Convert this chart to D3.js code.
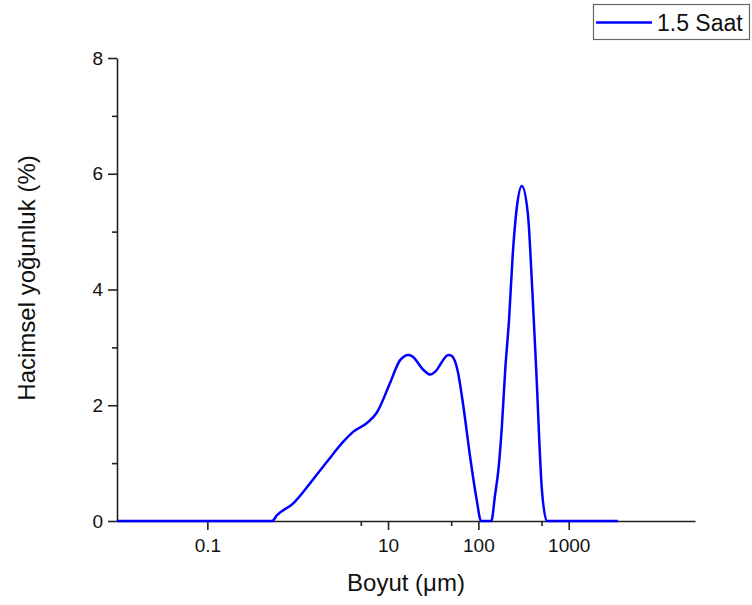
<!DOCTYPE html>
<html>
<head>
<meta charset="utf-8">
<script src="https://cdn.jsdelivr.net/npm/d3@7"></script>
<style>
  body { margin: 0; background: #fff; }
  text { font-family: Arial, "Liberation Sans", sans-serif; fill: #111; }
</style>
</head>
<body>
<div id="chart"></div>
<script>
// particle size (um) and volume density (%)
const sizes = [0.01, 0.52, 0.59, 0.9, 1.37, 2.1, 3.2, 4.1, 5.8, 7.5, 10.5, 13.6, 16.8, 18.4, 24.7, 29.3, 33.2, 46.7, 50.9, 58.7, 68.4, 81, 96, 107, 139, 153, 167, 182, 198, 219, 240, 267, 303, 353, 395, 437, 505, 574, 3500];
const values = [0, 0, 0.10, 0.31, 0.65, 1.02, 1.37, 1.54, 1.69, 1.87, 2.38, 2.78, 2.87, 2.85, 2.61, 2.53, 2.58, 2.87, 2.85, 2.61, 1.97, 1.11, 0.36, 0, 0, 0.45, 0.9, 1.63, 2.6, 3.5, 4.6, 5.43, 5.79, 5.31, 4.0, 2.61, 0.54, 0, 0];

const xTicks = [0.1, 10, 100, 1000];
const xMinor = [5, 50, 500];
const yTicks = [0, 2, 4, 6, 8];
const yMinor = [1, 3, 5, 7];
const seriesName = "1.5 Saat";

const width = 752, height = 605;
const mLeft = 117, mRight = 695, mTop = 58, mBottom = 521;

const svg = d3.select("#chart").append("svg")
  .attr("width", width)
  .attr("height", height);

const x = d3.scaleLog().domain([0.01, 25000]).range([mLeft, mRight]);
const y = d3.scaleLinear().domain([0, 8]).range([mBottom, mTop]);

// axes
const xAxis = svg.append("g").attr("transform", `translate(0,${mBottom})`)
  .call(d3.axisBottom(x).tickValues(xTicks).tickFormat(d => String(d)).tickSize(9).tickSizeOuter(0));
svg.append("g").attr("transform", `translate(0,${mBottom})`)
  .call(d3.axisBottom(x).tickValues(xMinor).tickFormat("").tickSize(5).tickSizeOuter(0))
  .select(".domain").remove();

const yAxis = svg.append("g").attr("transform", `translate(${mLeft},0)`)
  .call(d3.axisLeft(y).tickValues(yTicks).tickSize(9).tickSizeOuter(0));
svg.append("g").attr("transform", `translate(${mLeft},0)`)
  .call(d3.axisLeft(y).tickValues(yMinor).tickFormat("").tickSize(5).tickSizeOuter(0))
  .select(".domain").remove();

svg.selectAll(".domain, .tick line").attr("stroke", "#222").attr("stroke-width", 1.6);
svg.selectAll(".tick text").style("font-size", "19px").style("font-family", "Arial, 'Liberation Sans', sans-serif").attr("fill", "#111");
xAxis.selectAll(".tick text").attr("dy", "1.0em");
yAxis.selectAll(".tick text").attr("dx", "-0.1em");

// axis titles
svg.append("text")
  .attr("x", 406).attr("y", 591)
  .attr("text-anchor", "middle")
  .style("font-size", "24px")
  .text("Boyut (\u03bcm)");

svg.append("text")
  .attr("transform", "translate(35,278) rotate(-90)")
  .attr("text-anchor", "middle")
  .style("font-size", "24px")
  .text("Hacimsel yoğunluk (%)");

// data line
const data = sizes.map((s, i) => [s, values[i]]);
svg.append("path")
  .datum(data)
  .attr("fill", "none")
  .attr("stroke", "#0000ff")
  .attr("stroke-width", 2.5)
  .attr("d", d3.line().x(d => x(d[0])).y(d => y(d[1])).curve(d3.curveMonotoneX));

// legend
const lg = svg.append("g");
lg.append("rect")
  .attr("x", 593.5).attr("y", 4.5).attr("width", 156).attr("height", 35)
  .attr("fill", "#fff").attr("stroke", "#666").attr("stroke-width", 1.2);
lg.append("line")
  .attr("x1", 596).attr("x2", 652).attr("y1", 22.5).attr("y2", 22.5)
  .attr("stroke", "#0000ff").attr("stroke-width", 2.5);
lg.append("text")
  .attr("x", 657).attr("y", 30.5)
  .style("font-size", "23px")
  .text(seriesName);
</script>
</body>
</html>
